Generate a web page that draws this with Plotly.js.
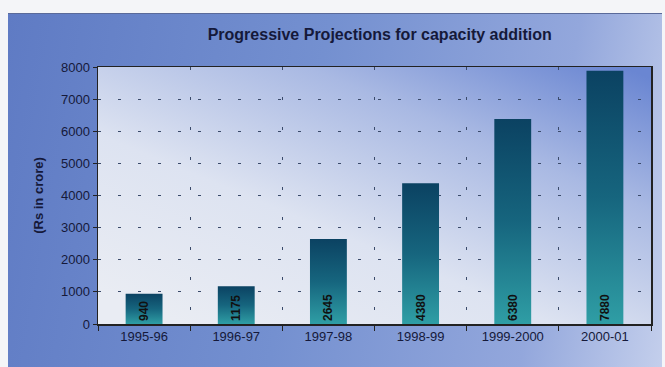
<!DOCTYPE html>
<html><head><meta charset="utf-8">
<script src="https://cdn.plot.ly/plotly-3.0.1.min.js"></script>
<style>
html,body{margin:0;padding:0;background:#f4f5f8;}
#wrap{position:relative;width:665px;height:367px;overflow:hidden;}
#box{position:absolute;left:8px;top:13px;width:654px;height:360px;
 background:linear-gradient(100deg,#5f7bc4 0%,#7490d0 45%,#93a7dc 80%,#c4cfec 100%);
 border-top:1px solid #5a6a9a;}
#chart{position:absolute;left:0;top:0;width:665px;height:367px;}
</style></head>
<body><div id="wrap"><div id="box"></div><div id="chart"></div></div>
<script>
const categories = ["1995-96","1996-97","1997-98","1998-99","1999-2000","2000-01"];
const values = [940, 1175, 2645, 4380, 6380, 7880];
const valueLabels = ["940","1175","2645","4380","6380","7880"];
const yTicks = [0,1000,2000,3000,4000,5000,6000,7000,8000];

const FONT = "Arial, 'Liberation Sans', sans-serif";
const trace = {
  type: 'bar', x: categories, y: values, width: 0.4,
  marker: {color: '#1f7f8f', line: {width: 0}},
  text: valueLabels, textposition: 'inside', insidetextanchor: 'start',
  textangle: -90, textfont: {family: FONT, size: 12, color: '#111', weight: 'bold'},
  hoverinfo: 'x+y'
};
const layout = {
  width: 665, height: 367,
  margin: {l: 98, r: 14, t: 67, b: 43},
  paper_bgcolor: 'rgba(0,0,0,0)', plot_bgcolor: '#dfe5f2',
  title: {text: '<b>Progressive Projections for capacity addition</b>', x: 0.571, xanchor: 'center', y: 0.905, yanchor: 'middle',
    font: {family: FONT, size: 16, color: '#15193a'}},
  xaxis: {type: 'category', tickson: 'boundaries', ticks: 'outside', ticklen: 5, tickcolor: '#222',
    showgrid: true, gridcolor: '#3a4a6a', gridwidth: 1, griddash: '3px,27px',
    showline: true, linecolor: '#222', linewidth: 1.5, mirror: true,
    tickfont: {family: FONT, size: 13, color: '#15193a'}, fixedrange: true},
  yaxis: {range: [0, 8000], tickvals: yTicks, ticks: 'outside', ticklen: 4, tickcolor: '#222',
    showgrid: true, gridcolor: '#3a4a6a', gridwidth: 1, griddash: '3px,17px',
    showline: true, linecolor: '#222', linewidth: 1.5, mirror: true, zeroline: false,
    tickfont: {family: FONT, size: 13, color: '#15193a'},
    title: {text: '<b>(Rs in crore)</b>', standoff: 14, font: {family: FONT, size: 13, color: '#15193a'}}, fixedrange: true},
  showlegend: false, bargap: 0.6
};
Plotly.newPlot('chart', [trace], layout, {displayModeBar: false, staticPlot: true}).then(gd => {
  const svg = gd.querySelector('.main-svg');
  const NS = 'http://www.w3.org/2000/svg';
  let defs = svg.querySelector('defs');
  if (!defs) { defs = document.createElementNS(NS, 'defs'); svg.insertBefore(defs, svg.firstChild); }
  function grad(id, x1, y1, x2, y2, stops) {
    const g = document.createElementNS(NS, 'linearGradient');
    g.setAttribute('id', id);
    g.setAttribute('x1', x1); g.setAttribute('y1', y1); g.setAttribute('x2', x2); g.setAttribute('y2', y2);
    stops.forEach(([o, c]) => { const s = document.createElementNS(NS, 'stop'); s.setAttribute('offset', o); s.setAttribute('stop-color', c); g.appendChild(s); });
    defs.appendChild(g);
  }
  grad('barGrad', 0, 0, 0, 1, [[0, '#0b4262'], [0.5, '#16657e'], [1, '#2f9ea5']]);
  grad('bgGrad', 0.1, 0.95, 0.95, 0.0, [[0, '#e9ecf3'], [0.35, '#dde3f1'], [0.7, '#a9b9e3'], [1, '#6a86d2']]);
  gd.querySelectorAll('.bars .point path').forEach(p => { p.style.fill = 'url(#barGrad)'; });
  const bg = gd.querySelector('.bglayer rect.bg');
  if (bg) bg.style.fill = 'url(#bgGrad)';
});
</script></body></html>
